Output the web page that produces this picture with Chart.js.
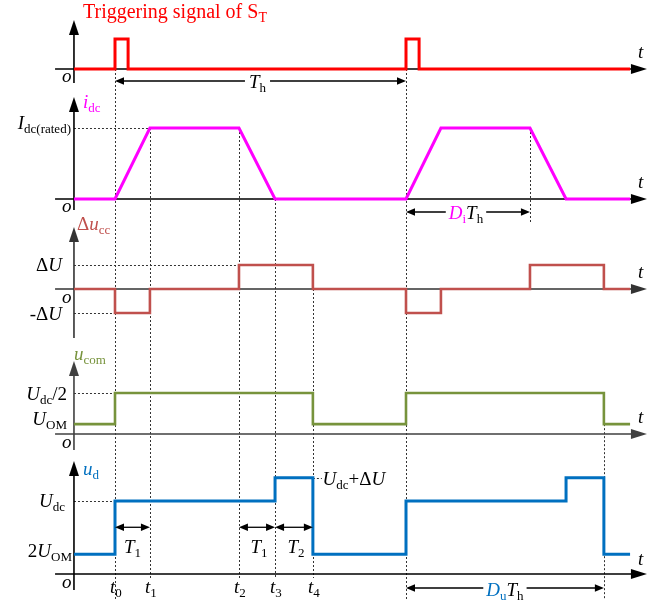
<!DOCTYPE html>
<html><head><meta charset="utf-8">
<script src="https://cdn.jsdelivr.net/npm/chart.js@4/dist/chart.umd.min.js"></script>
<style>html,body{margin:0;padding:0;background:#fff;}#wrap{width:664px;height:603px;}</style>
</head><body><div id="wrap"><canvas id="c" width="664" height="603"></canvas></div>
<script>
// ---------------- DATA (time in units where Th = 10) ----------------
const Th = 10;
const tMarks = [0, 1.2, 4.26, 5.5, 6.8];
const tMarkNames = ['0', '1', '2', '3', '4'];
const trigTimes = [-1.41, 0, 0.45, 10, 10.45, 17.7];
const trigLevels = [0, 1, 0, 1, 0, 0];
const idcTimes = [-1.41, 0, 1.2, 4.26, 5.5, 10, 11.2, 14.26, 15.5, 17.7];
const idcLevels = [0, 0, 1, 1, 0, 0, 1, 1, 0, 0];
const ducTimes = [-1.41, 0, 1.2, 4.26, 6.8, 10, 11.2, 14.26, 16.8, 17.7];
const ducLevels = [0, -1, 0, 1, 0, -1, 0, 1, 0, 0];
const ucomTimes = [-1.41, 0, 6.8, 10, 16.8, 17.7];
const ucomLevels = [0.24, 1, 0.24, 1, 0.24, 0.24];
const udTimes = [-1.41, 0, 5.5, 6.8, 10, 15.5, 16.8, 17.7];
const udLevels = [0.27, 1, 1.32, 0.27, 1, 1.32, 0.27, 0.27];
const DiTh = 4.26;   // D_i * Th
const DuTh = 6.8;    // D_u * Th
const axisT = -1.41; // time of vertical axes

// ---------------- LAYOUT ----------------
const W = 664, H = 603;
const xOriginPx = 115, xUnitPx = 29.1;
const panelLayout = {
  yTrig: {base: 69, k: 30},
  yIdc: {base: 199, k: 71},
  yDuc: {base: 289, k: 24},
  yUcom: {base: 434, k: 41},
  yUd: {base: 574, k: 73}
};
const COL = {trig: '#FF0000', idc: '#FF00FF', duc: '#C0504D', ucom: '#77933C', ud: '#0070C0'};
const FONT = '"Liberation Serif","Times New Roman",serif';

function pts(xs, ys) { return xs.map((x, i) => ({x: x, y: ys[i]})); }
function yScale(id) {
  const p = panelLayout[id];
  return {type: 'linear', display: false, min: -(H - p.base) / p.k, max: p.base / p.k};
}

// ---------------- DRAWING HELPERS ----------------
function M(t, o) { o = o || {}; return {t: t, s: o.s || 19, i: o.i !== false, c: o.c || '#000', dy: 0}; }
function R(t, o) { o = o || {}; return {t: t, s: o.s || 19, i: false, c: o.c || '#000', dy: 0}; }
function S(t, c, s) { return {t: t, s: s || 13, i: false, c: c || '#000', dy: 4}; }
function fnt(p) { return (p.i ? 'italic ' : '') + p.s + 'px ' + FONT; }
function rich(ctx, parts, x, y, align) {
  let w = 0;
  parts.forEach(p => { ctx.font = fnt(p); p.w = ctx.measureText(p.t).width; w += p.w; });
  let cx = align === 'right' ? x - w : (align === 'center' ? x - w / 2 : x);
  const left = cx;
  ctx.textBaseline = 'alphabetic'; ctx.textAlign = 'left';
  parts.forEach(p => { ctx.font = fnt(p); ctx.fillStyle = p.c; ctx.fillText(p.t, cx, y + p.dy); cx += p.w; });
  return {left: left, right: cx, w: w};
}
function measure(ctx, parts) {
  let w = 0; parts.forEach(p => { ctx.font = fnt(p); w += ctx.measureText(p.t).width; }); return w;
}
function head(ctx, tipX, tipY, dir, len, hw) {
  // dir: 'l','r','u'
  ctx.beginPath();
  if (dir === 'r') { ctx.moveTo(tipX, tipY); ctx.lineTo(tipX - len, tipY - hw); ctx.lineTo(tipX - len, tipY + hw); }
  else if (dir === 'l') { ctx.moveTo(tipX, tipY); ctx.lineTo(tipX + len, tipY - hw); ctx.lineTo(tipX + len, tipY + hw); }
  else { ctx.moveTo(tipX, tipY); ctx.lineTo(tipX - hw, tipY + len); ctx.lineTo(tipX + hw, tipY + len); }
  ctx.closePath(); ctx.fill();
}
function dblArrow(ctx, x1, x2, y, gapC, gapW) {
  ctx.save();
  ctx.strokeStyle = '#000'; ctx.fillStyle = '#000'; ctx.lineWidth = 1.3; ctx.setLineDash([]);
  ctx.beginPath();
  if (gapW) {
    ctx.moveTo(x1 + 6, y); ctx.lineTo(gapC - gapW / 2, y);
    ctx.moveTo(gapC + gapW / 2, y); ctx.lineTo(x2 - 6, y);
  } else { ctx.moveTo(x1 + 6, y); ctx.lineTo(x2 - 6, y); }
  ctx.stroke();
  head(ctx, x1, y, 'l', 9, 3.8);
  head(ctx, x2, y, 'r', 9, 3.8);
  ctx.restore();
}
function dotted(ctx, x1, y1, x2, y2) {
  ctx.save();
  ctx.strokeStyle = '#333'; ctx.lineWidth = 1; ctx.setLineDash([2, 2]);
  ctx.beginPath(); ctx.moveTo(x1, y1); ctx.lineTo(x2, y2); ctx.stroke();
  ctx.restore();
}

// axis look per panel (pixel extents relative to baseline)
const axisLook = [
  {id: 'yTrig', tip: -49, below: 14, color: '#000'},
  {id: 'yIdc', tip: -102, below: 11, color: '#000'},
  {id: 'yDuc', tip: -62, below: 49, color: '#333'},
  {id: 'yUcom', tip: -73, below: 16, color: '#404040'},
  {id: 'yUd', tip: -113, below: 16, color: '#000'}
];

const diagram = {
  id: 'diagram',
  beforeDatasetsDraw(chart) {
    const ctx = chart.ctx, sx = chart.scales.x;
    const X = v => sx.getPixelForValue(v);
    const Y = (id, v) => chart.scales[id].getPixelForValue(v);
    const ax = X(axisT);
    const endBottom = Y('yUd', 0) + 4, farBottom = Y('yUd', 0) + 26;
    // vertical guides
    const vGuides = [
      [tMarks[0], Y('yTrig', 0), farBottom],
      [tMarks[1], Y('yIdc', 1), endBottom],
      [tMarks[2], Y('yIdc', 1), endBottom],
      [tMarks[3], Y('yIdc', 0), endBottom],
      [tMarks[4], Y('yDuc', 1), endBottom],
      [Th + tMarks[0], Y('yTrig', 0), farBottom],
      [Th + DiTh, Y('yIdc', 1), Y('yIdc', 0) + 23],
      [Th + DuTh, Y('yUcom', ucomLevels[0]), farBottom]
    ];
    vGuides.forEach(g => dotted(ctx, Math.round(X(g[0])) + 0.5, g[1], Math.round(X(g[0])) + 0.5, g[2]));
    // horizontal guides
    const hGuides = [
      ['yIdc', 1, axisT, tMarks[1]],
      ['yDuc', 1, axisT, tMarks[2]],
      ['yDuc', -1, axisT, tMarks[0]],
      ['yUcom', 1, axisT, tMarks[0]],
      ['yUd', 1, axisT, tMarks[0]],
      ['yUd', 1.32, tMarks[4], tMarks[4] + 0.31]
    ];
    hGuides.forEach(g => { const y = Math.round(Y(g[0], g[1])) + 0.5; dotted(ctx, X(g[2]), y, X(g[3]), y); });
    // axes
    ctx.save();
    axisLook.forEach(a => {
      const b = Y(a.id, 0);
      ctx.strokeStyle = a.color; ctx.fillStyle = a.color; ctx.lineWidth = 1.6; ctx.setLineDash([]);
      ctx.beginPath();
      ctx.moveTo(X(-2.06), b); ctx.lineTo(X(18.28) - 12, b);
      ctx.moveTo(ax, b + a.below); ctx.lineTo(ax, b + a.tip + 12);
      ctx.stroke();
      head(ctx, X(18.28), b, 'r', 16, 5);
      head(ctx, ax, b + a.tip, 'u', 15, 5);
    });
    ctx.restore();
  },
  afterDatasetsDraw(chart) {
    const ctx = chart.ctx, sx = chart.scales.x;
    const X = v => sx.getPixelForValue(v);
    const Y = (id, v) => chart.scales[id].getPixelForValue(v);
    const ax = X(axisT);
    ctx.save();
    // title
    rich(ctx, [R('Triggering signal of S', {c: COL.trig, s: 20}), S('T', COL.trig, 14)], 83, Y('yTrig', 0) - 51, 'left');
    // o and t labels
    axisLook.forEach((a, i) => {
      const b = Y(a.id, 0);
      rich(ctx, [M('o')], ax - 12, b + [13, 13, 14, 14, 14][i], 'left');
      rich(ctx, [M('t')], X(18.28) - 9, b - (i === 4 ? 9 : 11), 'left');
    });
    // signal names
    rich(ctx, [M('i', {c: COL.idc}), S('dc', COL.idc)], ax + 9, Y('yIdc', 0) - 91, 'left');
    rich(ctx, [R('\u0394', {c: COL.duc}), M('u', {c: COL.duc}), S('cc', COL.duc)], ax + 3, Y('yDuc', 0) - 59, 'left');
    rich(ctx, [M('u', {c: COL.ucom}), S('com', COL.ucom)], ax, Y('yUcom', 0) - 74, 'left');
    rich(ctx, [M('u', {c: COL.ud}), S('d', COL.ud)], ax + 9, Y('yUd', 0) - 99, 'left');
    // level labels
    rich(ctx, [M('I'), S('dc(rated)', '#000', 13)], ax - 3, Y('yIdc', 1) + 1, 'right');
    rich(ctx, [R('\u0394'), M('U')], ax - 12, Y('yDuc', 1) + 6, 'right');
    rich(ctx, [R('-\u0394'), M('U')], ax - 12, Y('yDuc', -1) + 7, 'right');
    rich(ctx, [M('U'), S('dc'), R('/2')], ax - 7, Y('yUcom', 1) + 7, 'right');
    rich(ctx, [M('U'), S('OM')], ax - 7, Y('yUcom', ucomLevels[0]) + 1, 'right');
    rich(ctx, [M('U'), S('dc')], ax - 9, Y('yUd', 1) + 6, 'right');
    rich(ctx, [R('2'), M('U'), S('OM')], ax - 2, Y('yUd', udLevels[0]) + 3, 'right');
    rich(ctx, [M('U'), S('dc'), R('+\u0394'), M('U')], X(tMarks[4] + 0.33), Y('yUd', 1.32) + 7, 'left');
    // time marks
    tMarks.forEach((t, i) => rich(ctx, [M('t'), S(tMarkNames[i])], X(t) - 5, Y('yUd', 0) + 19, 'left'));
    // Th arrow
    const thY = Y('yTrig', 0) + 12;
    const thParts = [M('T'), S('h')];
    const thW = measure(ctx, thParts);
    const thC = (X(0) + X(Th)) / 2 - 3;
    dblArrow(ctx, X(0), X(Th), thY, thC, thW + 8);
    rich(ctx, thParts, thC, thY + 7, 'center');
    // Di Th arrow
    const diY = Y('yIdc', 0) + 13;
    const diParts = [M('D', {c: COL.idc}), S('i', COL.idc), M('T'), S('h')];
    const diW = measure(ctx, diParts);
    const diC = (X(Th) + X(Th + DiTh)) / 2 - 2;
    dblArrow(ctx, X(Th), X(Th + DiTh), diY, diC, diW + 6);
    rich(ctx, diParts, diC, diY + 7, 'center');
    // Du Th arrow
    const duY = Y('yUd', 0) + 14;
    const duParts = [M('D', {c: COL.ud}), S('u', COL.ud), M('T'), S('h')];
    const duW = measure(ctx, duParts);
    const duC = (X(Th) + X(Th + DuTh)) / 2;
    dblArrow(ctx, X(Th), X(Th + DuTh), duY, duC, duW + 6);
    rich(ctx, duParts, duC, duY + 8, 'center');
    // T1, T2 arrows
    const tY = Y('yUd', 0.64);
    dblArrow(ctx, X(tMarks[0]), X(tMarks[1]), tY);
    dblArrow(ctx, X(tMarks[2]), X(tMarks[3]), tY);
    dblArrow(ctx, X(tMarks[3]), X(tMarks[4]), tY);
    rich(ctx, [M('T'), S('1')], (X(tMarks[0]) + X(tMarks[1])) / 2, tY + 26, 'center');
    rich(ctx, [M('T'), S('1')], (X(tMarks[2]) + X(tMarks[3])) / 2 + 2, tY + 26, 'center');
    rich(ctx, [M('T'), S('2')], (X(tMarks[3]) + X(tMarks[4])) / 2 + 2, tY + 26, 'center');
    ctx.restore();
  }
};

const ds = (xs, ys, axis, color, width, stepped) => ({
  data: pts(xs, ys), yAxisID: axis, borderColor: color, borderWidth: width,
  pointRadius: 0, stepped: stepped, tension: 0, fill: false,
  borderJoinStyle: 'miter', borderCapStyle: 'butt', clip: false
});

new Chart(document.getElementById('c'), {
  type: 'line',
  data: {
    datasets: [
      ds(trigTimes, trigLevels, 'yTrig', COL.trig, 3, true),
      ds(idcTimes, idcLevels, 'yIdc', COL.idc, 3, false),
      ds(ducTimes, ducLevels, 'yDuc', COL.duc, 2.6, true),
      ds(ucomTimes, ucomLevels, 'yUcom', COL.ucom, 2.6, true),
      ds(udTimes, udLevels, 'yUd', COL.ud, 3, true)
    ]
  },
  options: {
    responsive: false, animation: false, events: [],
    layout: {padding: 0},
    plugins: {legend: {display: false}, tooltip: {enabled: false}, title: {display: false}},
    scales: {
      x: {type: 'linear', display: false, min: -xOriginPx / xUnitPx, max: (W - xOriginPx) / xUnitPx},
      yTrig: yScale('yTrig'), yIdc: yScale('yIdc'), yDuc: yScale('yDuc'),
      yUcom: yScale('yUcom'), yUd: yScale('yUd')
    }
  },
  plugins: [diagram]
});
</script></body></html>
